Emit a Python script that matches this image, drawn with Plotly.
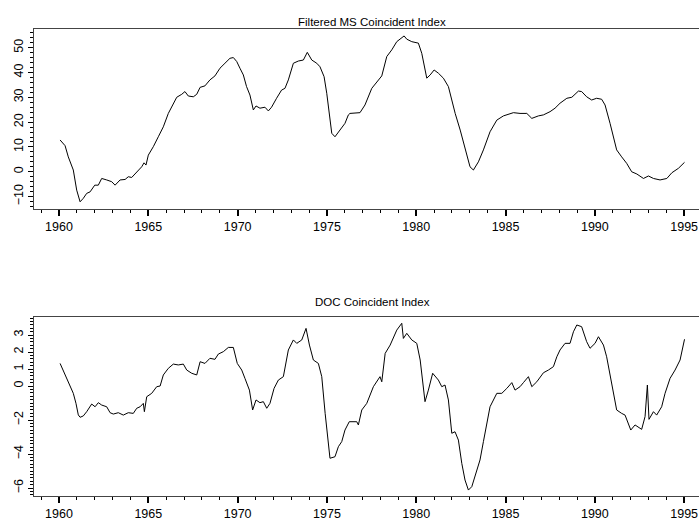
import plotly.graph_objects as go

# Filtered MS Coincident Index
ms_years = [1960.06,1960.34,1960.52,1960.8,1960.99,1961.18,1961.36,1961.55,1961.74,1962.0,1962.2,1962.39,1962.67,1962.95,1963.14,1963.42,1963.7,1963.88,1964.07,1964.35,1964.63,1964.76,1964.87,1965.0,1965.28,1965.56,1965.84,1966.12,1966.31,1966.59,1966.87,1967.05,1967.24,1967.52,1967.71,1967.9,1968.17,1968.45,1968.73,1969.01,1969.29,1969.57,1969.76,1969.95,1970.13,1970.32,1970.5,1970.69,1970.88,1971.03,1971.25,1971.53,1971.72,1971.9,1972.18,1972.46,1972.65,1972.84,1973.12,1973.4,1973.68,1973.9,1974.15,1974.43,1974.61,1974.84,1974.99,1975.17,1975.27,1975.45,1975.73,1976.01,1976.2,1976.29,1976.85,1977.13,1977.51,1977.79,1978.07,1978.35,1978.63,1978.91,1979.19,1979.32,1979.47,1979.75,1980.12,1980.31,1980.59,1980.78,1981.0,1981.24,1981.52,1981.8,1981.99,1982.18,1982.46,1982.74,1983.01,1983.2,1983.48,1983.76,1984.13,1984.51,1984.88,1985.44,1985.81,1986.19,1986.47,1986.84,1987.12,1987.49,1987.77,1988.05,1988.43,1988.71,1989.08,1989.26,1989.54,1989.82,1990.1,1990.38,1990.57,1990.85,1991.22,1991.5,1991.78,1992.06,1992.35,1992.72,1993.0,1993.28,1993.65,1994.03,1994.31,1994.68,1995.02]
ms_values = [12.8,10.5,6.0,0.7,-7.4,-12.1,-10.7,-8.7,-8.1,-5.4,-5.4,-2.7,-3.3,-4.0,-5.4,-3.3,-3.1,-2.0,-2.3,0.0,2.0,3.6,2.7,6.7,10.1,14.1,18.1,23.5,26.2,30.0,31.2,32.3,30.5,30.2,31.2,34.0,34.6,37.0,38.6,41.7,43.7,45.7,46.0,44.4,41.7,39.0,34.3,30.9,24.9,26.5,25.6,26.0,24.5,26.0,29.6,32.9,33.6,37.0,43.7,44.6,45.0,48.1,45.0,43.7,42.3,38.3,31.6,20.8,15.5,14.1,16.8,19.5,22.9,23.5,23.8,26.9,33.6,36.3,38.6,46.4,49.1,52.4,53.8,54.7,53.4,52.4,51.8,47.7,37.7,39.0,41.0,39.7,37.7,34.3,28.9,23.5,16.8,8.8,2.0,0.7,4.0,8.8,16.1,20.8,22.5,23.8,23.5,23.5,21.5,22.5,22.9,24.2,25.6,27.6,29.6,30.0,32.5,32.3,30.2,28.9,29.6,29.2,26.9,19.5,8.8,6.0,3.4,0.0,-0.9,-2.7,-1.7,-2.7,-3.3,-2.7,-0.4,1.4,3.8]

# DOC Coincident Index
doc_years = [1960.06,1960.2,1960.34,1960.62,1960.8,1960.95,1961.08,1961.18,1961.36,1961.55,1961.83,1962.02,1962.2,1962.39,1962.67,1962.86,1963.04,1963.32,1963.6,1963.88,1964.16,1964.35,1964.54,1964.72,1964.78,1964.91,1965.19,1965.47,1965.66,1965.84,1966.12,1966.4,1966.68,1966.96,1967.15,1967.43,1967.71,1967.9,1968.17,1968.45,1968.73,1968.92,1969.2,1969.48,1969.76,1969.98,1970.23,1970.41,1970.66,1970.84,1971.03,1971.25,1971.44,1971.63,1971.81,1972.04,1972.28,1972.56,1972.84,1973.12,1973.31,1973.59,1973.83,1974.02,1974.24,1974.52,1974.71,1974.9,1975.08,1975.17,1975.45,1975.64,1975.83,1976.01,1976.25,1976.67,1976.76,1976.95,1977.23,1977.6,1977.97,1978.07,1978.26,1978.54,1978.91,1979.19,1979.28,1979.47,1979.75,1980.03,1980.22,1980.49,1980.68,1980.92,1981.24,1981.43,1981.61,1981.8,1981.99,1982.17,1982.36,1982.55,1982.73,1982.92,1983.11,1983.29,1983.57,1983.76,1984.13,1984.51,1984.79,1985.07,1985.35,1985.53,1985.81,1986.0,1986.28,1986.47,1986.75,1987.03,1987.12,1987.4,1987.68,1987.87,1988.05,1988.33,1988.61,1988.8,1988.99,1989.26,1989.54,1989.73,1990.01,1990.2,1990.48,1990.66,1990.94,1991.22,1991.5,1991.69,1992.01,1992.25,1992.62,1992.81,1992.94,1993.03,1993.28,1993.46,1993.74,1993.93,1994.21,1994.49,1994.77,1995.02]
doc_values = [1.33,0.98,0.65,-0.04,-0.43,-1.02,-1.7,-1.84,-1.76,-1.51,-1.06,-1.22,-0.98,-1.12,-1.22,-1.57,-1.65,-1.57,-1.71,-1.57,-1.61,-1.31,-1.22,-1.02,-1.51,-0.63,-0.43,-0.04,0.0,0.65,1.04,1.29,1.24,1.29,0.94,0.75,0.65,1.43,1.33,1.63,1.57,1.88,2.02,2.27,2.27,1.33,0.94,0.45,-0.24,-1.41,-0.82,-0.98,-0.92,-1.31,-1.02,-0.14,0.35,0.55,2.12,2.71,2.51,2.71,3.39,2.41,1.53,1.33,0.55,-1.61,-3.18,-4.25,-4.16,-3.57,-3.27,-2.59,-2.1,-2.1,-2.29,-1.41,-1.02,-0.04,0.55,0.25,1.92,2.41,3.29,3.69,2.8,3.1,2.71,2.51,1.53,-0.92,-0.24,0.75,0.35,-0.04,0.06,-0.82,-2.78,-2.69,-3.18,-4.55,-5.53,-6.12,-5.92,-5.34,-4.35,-3.27,-1.22,-0.43,-0.43,-0.14,0.2,-0.24,-0.04,0.2,0.55,-0.04,0.25,0.65,0.78,0.94,1.14,1.72,2.12,2.51,2.51,3.19,3.59,3.49,2.61,2.22,2.51,2.9,2.41,1.72,0.16,-1.41,-1.61,-1.71,-2.59,-2.29,-2.55,-1.8,0.06,-1.96,-1.51,-1.71,-1.22,-0.43,0.45,0.94,1.53,2.75]

ms_ticks = [-10, 0, 10, 20, 30, 40, 50]
doc_ticks = [3, 2, 1, 0, -2, -4, -6]
year_ticks = [1960, 1965, 1970, 1975, 1980, 1985, 1990, 1995]
titles = ["Filtered MS Coincident Index", "DOC Coincident Index"]

W, H = 699, 525
ml, mr, mt, mb = 34, 0, 29, 29
ph = H - mt - mb
top_dom = [(496 - 209) / ph, 1.0]
bot_dom = [0.0, (496 - 317) / ph]

fam = "Liberation Sans, Arial, sans-serif"
font = dict(family=fam, size=12.5, color="black")

fig = go.Figure()
fig.add_trace(go.Scatter(x=ms_years, y=ms_values, mode="lines",
                         line=dict(color="black", width=1), xaxis="x", yaxis="y"))
fig.add_trace(go.Scatter(x=doc_years, y=doc_values, mode="lines",
                         line=dict(color="black", width=1), xaxis="x2", yaxis="y2"))

xcommon = dict(range=[1958.6, 1995.83], tickvals=year_ticks, ticks="outside", ticklen=6,
               tickwidth=1.5, tickcolor="black", showline=True, linecolor="#444",
               linewidth=1.2, mirror=True, showgrid=False, zeroline=False,
               tickfont=font,
               minor=dict(dtick=1, tick0=1960, ticks="outside", ticklen=3,
                          tickcolor="black", tickwidth=1, showgrid=False))
ycommon = dict(ticks="outside", ticklen=5, tickcolor="black", tickwidth=1,
               showline=True, linecolor="#444", linewidth=1.2, showgrid=False,
               zeroline=False, tickangle=-90, tickfont=font)

fig.update_layout(
    width=W, height=H, margin=dict(l=ml, r=mr, t=mt, b=mb),
    paper_bgcolor="white", plot_bgcolor="white", showlegend=False,
    xaxis=dict(domain=[0, 1], anchor="y", **xcommon),
    xaxis2=dict(domain=[0, 1], anchor="y2", **xcommon),
    yaxis=dict(domain=top_dom, anchor="x", range=[-15.0, 57.5], tickvals=ms_ticks,
               minor=dict(dtick=2, tick0=0, ticks="outside", ticklen=3,
                          tickcolor="black", showgrid=False),
               **ycommon),
    yaxis2=dict(domain=bot_dom, anchor="x2", range=[-6.47, 4.06], tickvals=doc_ticks,
                minor=dict(dtick=0.2, tick0=0, ticks="outside", ticklen=3,
                           tickcolor="black", showgrid=False),
                **ycommon),
    annotations=[
        dict(text=titles[0], x=372, y=14, xref="paper", yref="paper", showarrow=False,
             font=dict(family=fam, size=11.5, color="black")),
        dict(text=titles[1], x=372, y=302, xref="paper", yref="paper", showarrow=False,
             font=dict(family=fam, size=11.5, color="black")),
    ],
)
# convert pixel positions for annotations to paper coords
for a in fig.layout.annotations:
    px, py = a.x, a.y
    a.x = (px - ml) / (W - ml - mr)
    a.y = (H - mb - py) / ph

fig.write_html("out.html")
